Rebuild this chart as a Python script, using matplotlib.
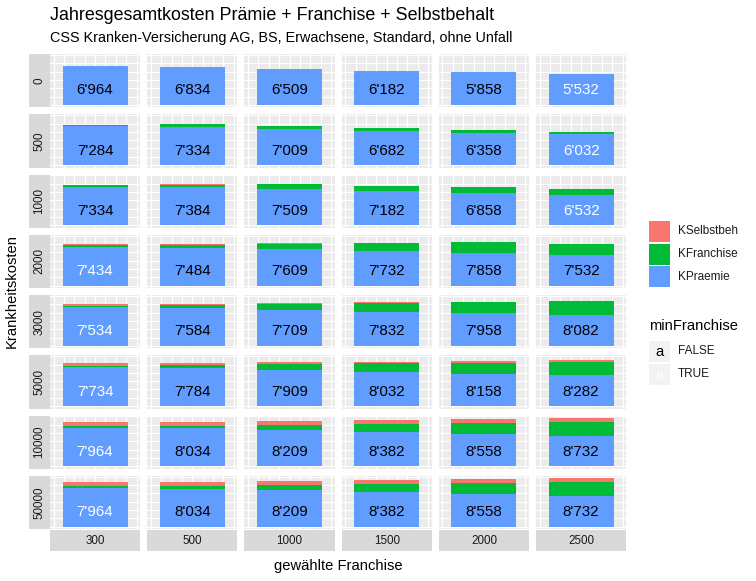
import numpy as np
import matplotlib
matplotlib.use("Agg")
import matplotlib.pyplot as plt
from matplotlib.patches import Rectangle

plt.rcParams["font.family"] = ["Liberation Sans", "DejaVu Sans"]

# ===== data =====
franchise = [300, 500, 1000, 1500, 2000, 2500]
krankheitskosten = [0, 500, 1000, 2000, 3000, 5000, 10000, 50000]

k_praemie = [6964, 6834, 6509, 6182, 5858, 5532]  # same in every row

k_franchise = [
    [0, 0, 0, 0, 0, 0],
    [300, 500, 500, 500, 500, 500],
    [300, 500, 1000, 1000, 1000, 1000],
    [300, 500, 1000, 1500, 2000, 2000],
    [300, 500, 1000, 1500, 2000, 2500],
    [300, 500, 1000, 1500, 2000, 2500],
    [300, 500, 1000, 1500, 2000, 2500],
    [300, 500, 1000, 1500, 2000, 2500],
]

k_selbstbeh = [
    [0, 0, 0, 0, 0, 0],
    [20, 0, 0, 0, 0, 0],
    [70, 50, 0, 0, 0, 0],
    [170, 150, 100, 50, 0, 0],
    [270, 250, 200, 150, 100, 50],
    [470, 450, 400, 350, 300, 250],
    [700, 700, 700, 700, 700, 700],
    [700, 700, 700, 700, 700, 700],
]

# ===== styles =====
col_sb = "#F8766D"
col_fr = "#00BA38"
col_pr = "#619CFF"
panel_bg = "#EBEBEB"
strip_bg = "#D9D9D9"
txt_col = "#1A1A1A"
LABEL_Y = 2600

W, H = 756, 581
fig = plt.figure(figsize=(W / 100, H / 100), dpi=100)

pr = np.array(k_praemie)
fr = np.array(k_franchise)
sb = np.array(k_selbstbeh)
total = pr[None, :] + fr + sb
is_min = total == total.min(axis=1, keepdims=True)

ymax = total.max()
ylo, yhi = -0.05 * ymax, 1.05 * ymax

x0, y0 = 50, 54
pw, ph = 90.2, 53.25
gap = 7.0


def px_axes(left, top, w, h):
    return fig.add_axes([left / W, 1 - (top + h) / H, w / W, h / H])


for i, kk in enumerate(krankheitskosten):
    top = y0 + i * (ph + gap)
    for j, f in enumerate(franchise):
        left = x0 + j * (pw + gap)
        ax = px_axes(left, top, pw, ph)
        ax.set_facecolor(panel_bg)
        ax.bar(1, pr[j], width=0.9, color=col_pr, zorder=3)
        ax.bar(1, fr[i, j], bottom=pr[j], width=0.9, color=col_fr, zorder=3)
        ax.bar(1, sb[i, j], bottom=pr[j] + fr[i, j], width=0.9, color=col_sb, zorder=3)
        label = f"{total[i, j]:,}".replace(",", "'")
        ax.text(1, LABEL_Y, label, ha="center", va="center", fontsize=10.9,
                color="white" if is_min[i, j] else "black", zorder=4)
        ax.set_xlim(1 - 0.625, 1 + 0.625)
        ax.set_ylim(ylo, yhi)
        ax.set_xticks(1 + 0.144 * np.arange(-4, 5))
        ax.set_yticks(np.arange(0, 9001, 1500))
        ax.grid(True, color="white", linewidth=0.8, zorder=0)
        ax.set_axisbelow(True)
        ax.tick_params(length=0, labelleft=False, labelbottom=False)
        for s in ax.spines.values():
            s.set_visible(False)

    # left strip
    sax = px_axes(x0 - 21, top, 21, ph)
    sax.set_facecolor(strip_bg)
    sax.set_xticks([]); sax.set_yticks([])
    for s in sax.spines.values():
        s.set_visible(False)
    sax.text(0.5, 0.5, str(kk), rotation=90, ha="center", va="center",
             fontsize=8.4, color=txt_col, transform=sax.transAxes)

# bottom strips
bottom = y0 + 8 * ph + 7 * gap
for j, f in enumerate(franchise):
    left = x0 + j * (pw + gap)
    sax = px_axes(left, bottom + 1, pw, 21)
    sax.set_facecolor(strip_bg)
    sax.set_xticks([]); sax.set_yticks([])
    for s in sax.spines.values():
        s.set_visible(False)
    sax.text(0.5, 0.5, str(f), ha="center", va="center",
             fontsize=8.4, color=txt_col, transform=sax.transAxes)

# titles
fig.text(50 / W, 1 - 15 / H, "Jahresgesamtkosten Prämie + Franchise + Selbstbehalt",
         fontsize=12.9, ha="left", va="center")
fig.text(50 / W, 1 - 38 / H, "CSS Kranken-Versicherung AG, BS, Erwachsene, Standard, ohne Unfall",
         fontsize=10.4, ha="left", va="center")
fig.text(12 / W, 1 - 291.5 / H, "Krankheitskosten", rotation=90,
         fontsize=10.6, ha="center", va="center")
fig.text(338 / W, 1 - 566 / H, "gewählte Franchise",
         fontsize=10.6, ha="center", va="center")

# legends
lax = fig.add_axes([0, 0, 1, 1])
lax.set_xlim(0, W)
lax.set_ylim(H, 0)
lax.axis("off")
fill_items = [("KSelbstbeh", col_sb), ("KFranchise", col_fr), ("KPraemie", col_pr)]
for k, (name, c) in enumerate(fill_items):
    ty = 221 + k * 22.7
    lax.add_patch(Rectangle((649, ty), 21, 21, facecolor=c, edgecolor="none"))
    lax.text(678, ty + 10.5, name, fontsize=8.5, va="center", ha="left", color=txt_col)

lax.text(649, 326, "minFranchise", fontsize=10.6, va="center", ha="left")
for k, (name, c) in enumerate([("FALSE", "black"), ("TRUE", "white")]):
    ty = 341 + k * 22.7
    lax.add_patch(Rectangle((649, ty), 21, 21, facecolor="#F2F2F2", edgecolor="none"))
    lax.text(659.5, ty + 11, "a", fontsize=10.6, va="center", ha="center", color=c)
    lax.text(678, ty + 10.5, name, fontsize=8.5, va="center", ha="left", color=txt_col)

fig.savefig("out.png", dpi=100)
